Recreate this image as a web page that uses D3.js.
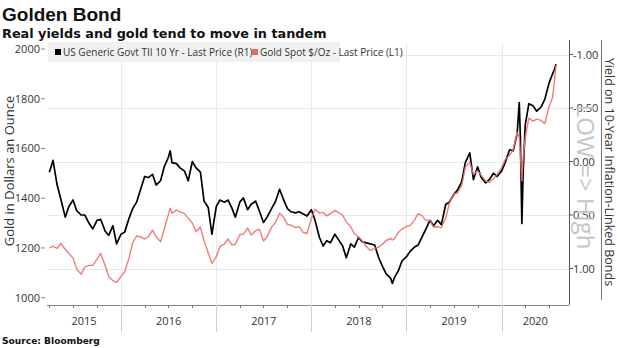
<!DOCTYPE html>
<html>
<head>
<meta charset="utf-8">
<script src="https://cdn.jsdelivr.net/npm/d3@7"></script>
<style>
  body { margin: 0; background: #fff; }
  svg { display: block; }
</style>
</head>
<body>
<div id="chart"></div>
<script>
// semi-monthly observations, plus a few extra around sharp moves
const dates = [
  "2015-04-01","2015-04-15","2015-05-01","2015-05-15","2015-06-01","2015-06-15","2015-07-01","2015-07-15","2015-08-01","2015-08-15","2015-09-01","2015-09-15","2015-10-01","2015-10-15","2015-11-01","2015-11-15","2015-12-01","2015-12-15",
  "2016-01-01","2016-01-15","2016-02-01","2016-02-15","2016-03-01","2016-03-15","2016-04-01","2016-04-15","2016-05-01","2016-05-15","2016-06-01","2016-06-15","2016-07-01","2016-07-08","2016-07-15","2016-08-01","2016-08-15","2016-09-01","2016-09-15","2016-10-01","2016-10-15","2016-11-01","2016-11-15","2016-12-01","2016-12-15",
  "2017-01-01","2017-01-15","2017-02-01","2017-02-15","2017-03-01","2017-03-15","2017-04-01","2017-04-15","2017-05-01","2017-05-15","2017-06-01","2017-06-15","2017-07-01","2017-07-15","2017-08-01","2017-08-15","2017-09-01","2017-09-15","2017-10-01","2017-10-15","2017-11-01","2017-11-15","2017-12-01","2017-12-15",
  "2018-01-01","2018-01-15","2018-02-01","2018-02-15","2018-03-01","2018-03-15","2018-04-01","2018-04-15","2018-05-01","2018-05-15","2018-06-01","2018-06-15","2018-07-01","2018-07-15","2018-08-01","2018-08-15","2018-09-01","2018-09-15","2018-10-01","2018-10-15","2018-11-01","2018-11-08","2018-11-15","2018-12-01","2018-12-15",
  "2019-01-01","2019-01-15","2019-02-01","2019-02-15","2019-03-01","2019-03-15","2019-04-01","2019-04-15","2019-05-01","2019-05-15","2019-06-01","2019-06-15","2019-07-01","2019-07-15","2019-08-01","2019-08-15","2019-09-01","2019-09-15","2019-10-01","2019-10-15","2019-11-01","2019-11-15","2019-12-01","2019-12-15",
  "2020-01-01","2020-01-15","2020-02-01","2020-02-15","2020-03-01","2020-03-09","2020-03-13","2020-03-19","2020-03-24","2020-04-01","2020-04-15","2020-05-01","2020-05-15","2020-06-01","2020-06-15","2020-07-01","2020-07-15","2020-07-22","2020-07-28"
];

// US Generic Govt TII 10 Yr (%), right axis
const tipsYield = [
  0.10,-0.01,0.22,0.35,0.52,0.42,0.36,0.46,0.50,0.50,0.58,0.63,0.55,0.54,0.65,0.69,0.60,0.77,
  0.68,0.66,0.53,0.44,0.38,0.27,0.14,0.15,0.12,0.22,0.18,0.05,-0.04,-0.10,0.01,0.02,0.06,0.09,0.18,0.00,0.06,0.10,0.37,0.43,0.68,
  0.42,0.36,0.38,0.36,0.43,0.52,0.38,0.34,0.45,0.40,0.37,0.46,0.57,0.52,0.44,0.38,0.26,0.35,0.44,0.47,0.48,0.47,0.49,0.51,
  0.45,0.55,0.71,0.79,0.74,0.76,0.68,0.73,0.79,0.90,0.77,0.80,0.71,0.75,0.76,0.77,0.78,0.89,0.98,1.05,1.09,1.14,1.09,1.02,0.93,
  0.89,0.84,0.80,0.78,0.71,0.64,0.55,0.60,0.55,0.59,0.40,0.38,0.31,0.27,0.19,0.01,-0.08,0.17,0.05,0.15,0.20,0.17,0.11,0.14,
  0.09,0.01,-0.11,-0.10,-0.26,-0.55,-0.25,0.58,0.10,-0.34,-0.54,-0.52,-0.47,-0.51,-0.58,-0.73,-0.82,-0.86,-0.91
];

// Gold Spot $/Oz, left axis
const goldPrice = [
  1200,1206,1198,1218,1195,1178,1160,1115,1094,1124,1130,1130,1155,1178,1130,1085,1068,1062,
  1085,1104,1160,1222,1248,1245,1236,1245,1272,1245,1225,1275,1335,1360,1340,1352,1345,1338,1320,1300,1265,1284,1228,1180,1138,
  1165,1205,1216,1236,1213,1215,1253,1256,1280,1252,1270,1276,1228,1245,1284,1300,1340,1325,1295,1292,1282,1286,1262,1258,
  1318,1356,1340,1343,1329,1338,1351,1342,1332,1305,1285,1258,1244,1229,1205,1190,1198,1203,1215,1230,1238,1232,1236,1262,1276,
  1286,1290,1313,1338,1330,1313,1310,1284,1285,1282,1320,1380,1418,1420,1450,1525,1545,1496,1510,1492,1470,1463,1478,1496,
  1522,1556,1572,1596,1665,1645,1580,1470,1560,1645,1722,1710,1718,1713,1700,1766,1805,1870,1935
];

const goldTicks = [1000, 1200, 1400, 1600, 1800, 2000];
const yieldTicks = [-1, -0.5, 0, 0.5, 1];
const years = [2015, 2016, 2017, 2018, 2019, 2020];

const W = 620, H = 348;
const plot = { left: 47, right: 569, top: 42, bottom: 305 };
const font = "'Open Sans', 'DejaVu Sans', sans-serif";
const boldFont = "'DejaVu Sans', Verdana, sans-serif";

const parse = d3.timeParse("%Y-%m-%d");
const rows = dates.map((d, i) => ({ date: parse(d), tips: tipsYield[i], gold: goldPrice[i] }));

const x = d3.scaleTime()
  .domain([new Date(2015, 2, 23), new Date(2020, 8, 16)])
  .range([plot.left, plot.right]);
const yGold = d3.scaleLinear().domain([1000, 2000]).range([297.7, 49]);
// right axis is inverted: lower yields sit higher up
const yTips = d3.scaleLinear().domain([0, 1]).range([161.5, 268.5]);

const svg = d3.select("#chart").append("svg")
  .attr("width", W).attr("height", H)
  .style("font-family", font);

// shrink or grow a bold line of text until it spans the given width
function fitText(sel, width) {
  const size = parseFloat(sel.style("font-size"));
  const w = sel.node().getComputedTextLength();
  sel.style("font-size", (size * width / w).toFixed(2) + "px");
}

// titles
svg.append("text").attr("x", 2).attr("y", 21)
  .style("font-family", "'Liberation Sans', Arial, sans-serif")
  .style("font-weight", "bold").style("font-size", "19px").attr("fill", "#111")
  .text("Golden Bond");
svg.append("text").attr("x", 2).attr("y", 38)
  .style("font-family", boldFont)
  .style("font-weight", "bold").style("font-size", "13px").attr("fill", "#111")
  .text("Real yields and gold tend to move in tandem")
  .call(fitText, 325);

// gridlines
const grid = svg.append("g").attr("stroke", "#e9e9e9").attr("stroke-width", 1);
grid.selectAll("line.h").data(yieldTicks).join("line")
  .attr("x1", plot.left).attr("x2", plot.right)
  .attr("y1", d => Math.round(yTips(d)) + 0.5).attr("y2", d => Math.round(yTips(d)) + 0.5);
const yearStarts = years.slice(1).map(y => new Date(y, 0, 1));
grid.selectAll("line.v").data(yearStarts).join("line")
  .attr("x1", d => Math.round(x(d)) + 0.5).attr("x2", d => Math.round(x(d)) + 0.5)
  .attr("y1", plot.top).attr("y2", plot.bottom);

// series
const tipsLine = d3.line().x(d => x(d.date)).y(d => yTips(d.tips));
const goldLine = d3.line().x(d => x(d.date)).y(d => yGold(d.gold));

svg.append("path").datum(rows)
  .attr("fill", "none").attr("stroke", "#000").attr("stroke-width", 1.7)
  .attr("stroke-linejoin", "round")
  .attr("d", tipsLine);
svg.append("path").datum(rows)
  .attr("fill", "none").attr("stroke", "#ee6e6e").attr("stroke-width", 1.4)
  .attr("stroke-opacity", 0.9).attr("stroke-linejoin", "round")
  .attr("d", goldLine);

// legend
const legend = svg.append("g").attr("transform", "translate(48,42)");
legend.append("rect").attr("width", 292).attr("height", 20).attr("fill", "#f1f1f1");
const legendItems = [
  { label: "US Generic Govt TII 10 Yr - Last Price (R1)", color: "#000", x: 7 },
  { label: "Gold Spot $/Oz - Last Price (L1)", color: "#e86a6a", x: 204 }
];
legendItems.forEach(it => {
  legend.append("rect").attr("x", it.x).attr("y", 7).attr("width", 6).attr("height", 6).attr("fill", it.color);
  legend.append("text").attr("x", it.x + 8).attr("y", 13.5)
    .style("font-size", "10px").attr("fill", "#333").text(it.label);
});

// left axis
const left = svg.append("g");
left.selectAll("line").data(goldTicks).join("line")
  .attr("x1", 41).attr("x2", 45)
  .attr("y1", d => yGold(d)).attr("y2", d => yGold(d))
  .attr("stroke", "#e06060");
left.selectAll("text").data(goldTicks).join("text")
  .attr("x", 40).attr("y", d => yGold(d) + 4)
  .attr("text-anchor", "end").style("font-size", "11px").attr("fill", "#333")
  .text(d => d);
svg.append("text")
  .attr("transform", "translate(14,171) rotate(-90)")
  .attr("text-anchor", "middle").style("font-size", "13px").attr("fill", "#333")
  .text("Gold in Dollars an Ounce");

// right axis
const right = svg.append("g");
right.append("line").attr("x1", plot.right + 0.5).attr("x2", plot.right + 0.5)
  .attr("y1", 40).attr("y2", plot.bottom).attr("stroke", "#555");
right.selectAll("line.t").data(yieldTicks).join("line")
  .attr("x1", plot.right).attr("x2", plot.right + 4)
  .attr("y1", d => yTips(d)).attr("y2", d => yTips(d))
  .attr("stroke", "#555");
svg.append("text")
  .attr("transform", "translate(577,177) rotate(90)")
  .attr("text-anchor", "middle").style("font-size", "24px").attr("fill", "#c6c6c6")
  .text("LOW => High");
right.selectAll("text").data(yieldTicks).join("text")
  .attr("x", plot.right + 4).attr("y", d => yTips(d) + 4)
  .style("font-size", "11px").attr("fill", "#333")
  .text(d => d.toFixed(2));
svg.append("line").attr("x1", 601.5).attr("x2", 601.5).attr("y1", 40).attr("y2", 300)
  .attr("stroke", "#777");
svg.append("text")
  .attr("transform", "translate(605,172) rotate(90)")
  .attr("text-anchor", "middle").style("font-size", "12.5px").attr("fill", "#333")
  .text("Yield on 10-Year Inflation-Linked Bonds");

// x axis: quarterly ticks, year bands
const xa = svg.append("g");
xa.append("line").attr("x1", plot.left).attr("x2", plot.right)
  .attr("y1", plot.bottom + 0.5).attr("y2", plot.bottom + 0.5).attr("stroke", "#888");
xa.selectAll("line.q").data(d3.timeMonth.every(3).range(...x.domain())).join("line")
  .attr("x1", d => Math.round(x(d)) + 0.5).attr("x2", d => Math.round(x(d)) + 0.5)
  .attr("y1", plot.bottom).attr("y2", plot.bottom + 3).attr("stroke", "#777");
xa.selectAll("line.y").data(yearStarts).join("line")
  .attr("x1", d => Math.round(x(d)) + 0.5).attr("x2", d => Math.round(x(d)) + 0.5)
  .attr("y1", plot.bottom).attr("y2", 332).attr("stroke", "#cfcfcf");
const [d0, d1] = x.domain();
xa.selectAll("text").data(years).join("text")
  .attr("x", y => {
    const a = Math.max(+new Date(y, 0, 1), +d0), b = Math.min(+new Date(y + 1, 0, 1), +d1);
    return (x(a) + x(b)) / 2;
  })
  .attr("y", 325).attr("text-anchor", "middle")
  .style("font-size", "11px").attr("fill", "#333")
  .text(y => y);

svg.append("text").attr("x", 2).attr("y", 344)
  .style("font-family", boldFont)
  .style("font-weight", "bold").style("font-size", "9px").attr("fill", "#111")
  .text("Source: Bloomberg")
  .call(fitText, 98);
</script>
</body>
</html>
